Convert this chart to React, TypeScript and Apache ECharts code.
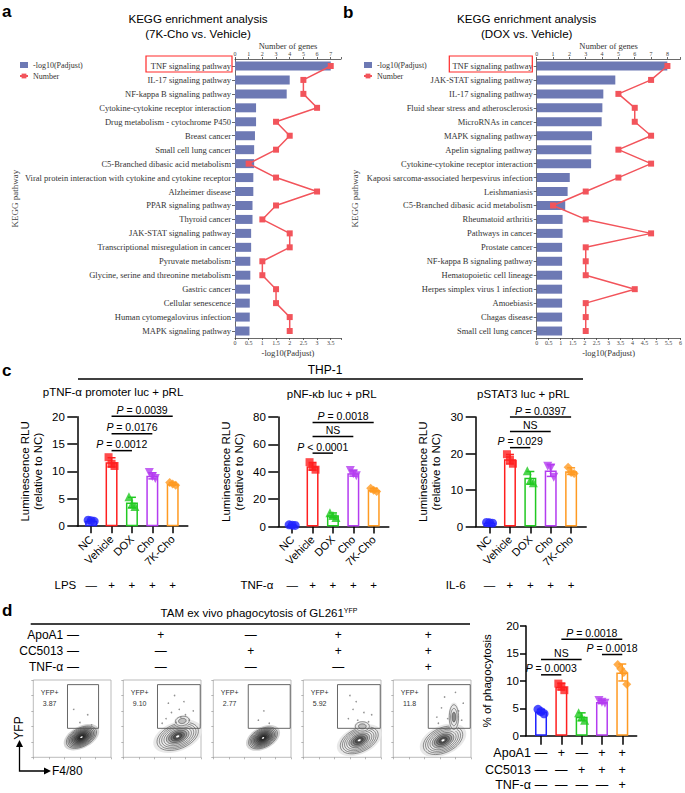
import React, { useEffect, useRef } from "react";
import * as echarts from "echarts";

const SERIF = '"Liberation Serif", "Times New Roman", serif';
const SANS = '"Liberation Sans", Arial, Helvetica, sans-serif';
const BAR = "#6d79b4";
const RED = "#f2545b";

// ===== Panel a: 7K-Cho vs. Vehicle =====
const aPathways = [
  "TNF signaling pathway",
  "IL-17 signaling pathway",
  "NF-kappa B signaling pathway",
  "Cytokine-cytokine receptor interaction",
  "Drug metabolism - cytochrome P450",
  "Breast cancer",
  "Small cell lung cancer",
  "C5-Branched dibasic acid metabolism",
  "Viral protein interaction with cytokine and cytokine receptor",
  "Alzheimer disease",
  "PPAR signaling pathway",
  "Thyroid cancer",
  "JAK-STAT signaling pathway",
  "Transcriptional misregulation in cancer",
  "Pyruvate metabolism",
  "Glycine, serine and threonine metabolism",
  "Gastric cancer",
  "Cellular senescence",
  "Human cytomegalovirus infection",
  "MAPK signaling pathway",
];
const aPadj = [3.5, 2.0, 1.89, 0.77, 0.77, 0.73, 0.7, 0.7, 0.67, 0.67, 0.64, 0.64, 0.59, 0.59, 0.56, 0.56, 0.55, 0.54, 0.54, 0.53];
const aGenes = [7, 5, 5, 6, 3, 4, 3, 1, 3, 6, 3, 2, 4, 4, 2, 2, 3, 3, 4, 4];

// ===== Panel b: DOX vs. Vehicle =====
const bPathways = [
  "TNF signaling pathway",
  "JAK-STAT signaling pathway",
  "IL-17 signaling pathway",
  "Fluid shear stress and atherosclerosis",
  "MicroRNAs in cancer",
  "MAPK signaling pathway",
  "Apelin signaling pathway",
  "Cytokine-cytokine receptor interaction",
  "Kaposi sarcoma-associated herpesvirus infection",
  "Leishmaniasis",
  "C5-Branched dibasic acid metabolism",
  "Rheumatoid arthritis",
  "Pathways in cancer",
  "Prostate cancer",
  "NF-kappa B signaling pathway",
  "Hematopoietic cell lineage",
  "Herpes simplex virus 1 infection",
  "Amoebiasis",
  "Chagas disease",
  "Small cell lung cancer",
];
const bPadj = [5.45, 3.28, 2.78, 2.74, 2.71, 2.31, 2.28, 2.27, 1.38, 1.29, 1.19, 1.08, 1.08, 1.06, 1.06, 1.06, 1.06, 1.06, 1.06, 1.06];
const bGenes = [8, 7, 5, 6, 6, 7, 5, 7, 5, 3, 1, 3, 7, 3, 3, 3, 6, 3, 3, 3];

// ===== Panel c: THP-1 luciferase =====
const cGroups = ["NC", "Vehicle", "DOX", "Cho", "7K-Cho"];
const cTnfVals = [[1.1, 1.0, 0.9], [12.6, 11.4, 11.0], [5.4, 4.0, 3.6], [9.8, 9.1, 8.7], [8.0, 7.7, 7.5]];
const cNfkbVals = [[1.2, 1.0, 0.8], [47, 43.5, 41.5], [10, 8, 6.5], [41, 38.5, 37], [28, 26.5, 25.5]];
const cStat3Vals = [[1.1, 1.0, 0.9], [19.8, 18.3, 17.2], [15.3, 12.7, 12.0], [16.5, 16.0, 13.5], [16.2, 14.8, 14.5]];
const cTnfSig = [[1, 2, 13.8], [1, 3, 16.9], [1, 4, 20.1]];
const cTnfSigLabels = ["P = 0.0012", "P = 0.0176", "P = 0.0039"];
const cNfkbSig = [[1, 2, 53.6], [1, 3, 65.7], [1, 4, 76.0]];
const cNfkbSigLabels = ["P < 0.0001", "NS", "P = 0.0018"];
const cStat3Sig = [[1, 2, 21.6], [1, 3, 26.0], [1, 4, 30.0]];
const cStat3SigLabels = ["P = 0.029", "NS", "P = 0.0397"];
const cLps = ["—", "+", "+", "+", "+"];
const cTnfa = ["—", "+", "+", "+", "+"];
const cIl6 = ["—", "+", "+", "+", "+"];

// ===== Panel d: phagocytosis =====
const dVals = [[4.8, 4.4, 4.0], [9.5, 9.0, 8.3], [4.2, 3.4, 2.8], [6.4, 6.1, 5.9], [13.0, 12.2, 11.5, 9.4]];
const dSig = [[0, 1, 11.1], [0, 2, 13.9], [1, 4, 17.6], [3, 4, 14.8]];
const dSigLabels = ["P = 0.0003", "NS", "P = 0.0018", "P = 0.0018"];
const dApoA1 = ["—", "+", "—", "+", "+"];
const dCC5013 = ["—", "—", "+", "+", "+"];
const dTnfa = ["—", "—", "—", "—", "+"];
const flowValues = ["3.87", "9.10", "2.77", "5.92", "11.8"];
// populations: [cx, cy, rx, ry, rotationDeg, levels, dense, core]
const flowPops = [
  [[62, 26, 21, 12, 28, 9, 1, 1]],
  [[70, 27, 28, 16, 22, 8, 0, 1], [76, 47, 9, 6, 10, 2, 0, 0]],
  [[64, 25, 20, 12, 28, 9, 1, 1]],
  [[72, 22, 26, 15, 25, 8, 0, 1], [76, 40, 9, 6, 0, 2, 0, 0]],
  [[64, 22, 27, 16, 25, 8, 0, 1], [78, 52, 6, 16, 0, 3, 0, 0]],
];
// sparse events seen inside the YFP+ gates
const flowEvents = [
  [[60, 45], [70, 55], [52, 62], [75, 42]],
  [[55, 50], [62, 58], [68, 45], [72, 62], [80, 55], [85, 48], [58, 70], [66, 80], [78, 72], [90, 60], [50, 44], [74, 52]],
  [[58, 48], [72, 44], [65, 60]],
  [[58, 50], [64, 62], [70, 48], [78, 58], [84, 46], [68, 72], [60, 80], [88, 55]],
  [[56, 52], [62, 64], [70, 50], [84, 60], [88, 48], [66, 78], [90, 70], [58, 44], [80, 84]],
];
const flowGates = [[44, 37.5, 84, 94], [44, 37.5, 99, 94], [45, 37.5, 99, 94], [44, 37.5, 99, 94], [45, 37.5, 99, 94]];

const GROUP_COLORS = ["#1f22ff", "#ff1f1f", "#22c922", "#b43cf0", "#ff9a22"];
const SYMBOLS = ["circle", "rect", "triangle", "triangle", "diamond"];
const SYMBOL_ROT = [0, 0, 0, 180, 0];
const SYMBOL_SIZE = [9, 8, 9, 9, 9];

const halfFmt = (v: number) => {
  const r = Math.round(v * 2);
  return Math.abs(v * 2 - r) < 1e-6 ? String(r / 2) : "";
};
const intFmt = (v: number) => {
  const r = Math.round(v);
  return Math.abs(v - r) < 1e-6 ? String(r) : "";
};
const mean = (a: number[]) => a.reduce((s, v) => s + v, 0) / a.length;
const sd = (a: number[]) => {
  const m = mean(a);
  return Math.sqrt(a.reduce((s, v) => s + (v - m) * (v - m), 0) / (a.length - 1));
};

function buildOption() {
  const grid: any[] = [];
  const xAxis: any[] = [];
  const yAxis: any[] = [];
  const series: any[] = [];

  const axisGray = { color: "#444", width: 0.8 };

  function kegg(left: number, width: number, pathways: string[], padj: number[], genes: number[], padjMax: number, genesMax: number, yNameGap: number) {
    const gi = grid.length;
    grid.push({ left, top: 59, width, height: 279 });
    const xb = xAxis.length;
    xAxis.push({
      type: "value", gridIndex: gi, position: "bottom", min: 0, max: padjMax, interval: 0.5,
      axisLine: { show: true, onZero: false, lineStyle: axisGray },
      axisTick: { show: true, length: 2, lineStyle: axisGray },
      axisLabel: { fontSize: 6, fontFamily: SERIF, color: "#444", margin: 2, formatter: halfFmt },
      splitLine: { show: false },
      name: "-log10(Padjust)", nameLocation: "middle", nameGap: 10.5,
      nameTextStyle: { fontSize: 8.5, fontFamily: SERIF, color: "#333" },
    });
    xAxis.push({
      type: "value", gridIndex: gi, position: "top", min: 0, max: genesMax, interval: 1,
      axisLine: { show: true, onZero: false, lineStyle: axisGray },
      axisTick: { show: true, length: 2, lineStyle: axisGray },
      axisLabel: { fontSize: 6, fontFamily: SERIF, color: "#444", margin: 2, formatter: intFmt },
      splitLine: { show: false },
      name: "Number of genes", nameLocation: "middle", nameGap: 8,
      nameTextStyle: { fontSize: 8.5, fontFamily: SERIF, color: "#333" },
    });
    const yi = yAxis.length;
    yAxis.push({
      type: "category", gridIndex: gi, data: pathways, inverse: true,
      axisLine: { show: true, onZero: false, lineStyle: axisGray },
      axisTick: { show: true, length: 3, alignWithLabel: true, lineStyle: axisGray },
      axisLabel: { fontSize: 8.5, fontFamily: SERIF, color: "#333", margin: 4, interval: 0 },
      name: "KEGG pathway", nameLocation: "middle", nameGap: yNameGap, nameRotate: 90,
      nameTextStyle: { fontSize: 9, fontFamily: SERIF, color: "#444" },
    });
    series.push({
      type: "bar", name: "-log10(Padjust)", xAxisIndex: xb, yAxisIndex: yi, data: padj,
      barWidth: 9, itemStyle: { color: BAR }, z: 2,
    });
    series.push({
      type: "line", name: "Number", xAxisIndex: xb + 1, yAxisIndex: yi, data: genes,
      symbol: "rect", symbolSize: 6, itemStyle: { color: RED }, lineStyle: { color: RED, width: 1.5 }, z: 3,
    });
  }

  kegg(235, 106, aPathways, aPadj, aGenes, 3.875, 7.75, 216);
  kegg(536.7, 146.6, bPathways, bPadj, bGenes, 6, 8.8, 177);

  const sigRender = (labels: string[], fontSize: number) => (params: any, api: any) => {
    const p1 = api.coord([api.value(0), api.value(2)]);
    const p2 = api.coord([api.value(1), api.value(2)]);
    const lab = labels[params.dataIndex];
    const text = lab.startsWith("P") ? "{i|P}" + lab.slice(1) : lab;
    return {
      type: "group",
      children: [
        { type: "line", shape: { x1: p1[0], y1: p1[1], x2: p2[0], y2: p2[1] }, style: { stroke: "#000", lineWidth: 1.5 } },
        {
          type: "text", x: (p1[0] + p2[0]) / 2, y: p1[1] - 1,
          style: {
            text, fill: "#000", fontSize, fontFamily: SANS, align: "center", verticalAlign: "bottom",
            textAlign: "center", textVerticalAlign: "bottom",
            rich: { i: { fontStyle: "italic", fontSize, fontFamily: SANS, fill: "#000" } },
          },
        },
      ],
    };
  };

  function dotPanel(o: any) {
    const gi = grid.length;
    grid.push({ left: o.left, top: o.top, width: o.width, height: o.height });
    const xi = xAxis.length;
    const ticks = o.vals.map((_: any, i: number) => i);
    xAxis.push({
      type: "value", gridIndex: gi, position: "bottom", min: o.xmin, max: o.xmax,
      axisLine: { show: true, onZero: false, lineStyle: { color: "#000", width: 1.5 } },
      axisTick: { show: true, customValues: ticks, length: o.xTickLen, lineStyle: { color: "#000", width: 1.5 } },
      axisLabel: o.xLabels
        ? { show: true, customValues: ticks, formatter: (v: number) => o.xLabels[Math.round(v)] || "", rotate: 45, fontSize: 11, fontFamily: SANS, color: "#000", margin: 11 }
        : { show: false },
      splitLine: { show: false },
    });
    const yi = yAxis.length;
    yAxis.push({
      type: "value", gridIndex: gi, min: 0, max: o.ymax, interval: o.yint,
      axisLine: { show: true, onZero: false, lineStyle: { color: "#000", width: 1.5 } },
      axisTick: { show: true, length: o.yTickLen, lineStyle: { color: "#000", width: 1.5 } },
      axisLabel: { fontSize: 11.5, fontFamily: SANS, color: "#000", margin: o.yLabelMargin },
      splitLine: { show: false },
      name: o.yName, nameLocation: "middle", nameRotate: 90, nameGap: o.yNameGap,
      nameTextStyle: { fontSize: 11.5, fontFamily: SANS, color: "#000", lineHeight: 13 },
    });
    const vals: number[][] = o.vals;
    series.push({
      type: "bar", xAxisIndex: xi, yAxisIndex: yi, barWidth: 12, z: 2, silent: true,
      data: vals.map((g, i) => ({ value: [i, mean(g)], itemStyle: { color: "#fff", borderColor: GROUP_COLORS[i], borderWidth: 1.5 } })),
    });
    series.push({
      type: "custom", coordinateSystem: "cartesian2d", xAxisIndex: xi, yAxisIndex: yi, z: 3, silent: true,
      encode: { x: 0, y: 1 },
      data: vals.map((g, i) => [i, mean(g), sd(g)]),
      renderItem: (params: any, api: any) => {
        const x = api.value(0), m = api.value(1), s = api.value(2);
        const t = api.coord([x, m + s]);
        const b = api.coord([x, m - s]);
        const c = GROUP_COLORS[params.dataIndex];
        const st = { stroke: c, lineWidth: 1.5 };
        return {
          type: "group",
          children: [
            { type: "line", shape: { x1: t[0], y1: t[1], x2: b[0], y2: b[1] }, style: st },
            { type: "line", shape: { x1: t[0] - 4, y1: t[1], x2: t[0] + 4, y2: t[1] }, style: st },
            { type: "line", shape: { x1: b[0] - 4, y1: b[1], x2: b[0] + 4, y2: b[1] }, style: st },
          ],
        };
      },
    });
    const pts: any[] = [];
    vals.forEach((g, i) => {
      g.forEach((v, j) => {
        const off = (j - (g.length - 1) / 2) * 3;
        pts.push({
          value: [i, v], symbol: SYMBOLS[i], symbolRotate: SYMBOL_ROT[i], symbolSize: SYMBOL_SIZE[i],
          symbolOffset: [off, 0], itemStyle: { color: GROUP_COLORS[i] },
        });
      });
    });
    series.push({ type: "scatter", xAxisIndex: xi, yAxisIndex: yi, z: 4, silent: true, data: pts });
    series.push({
      type: "custom", coordinateSystem: "cartesian2d", xAxisIndex: xi, yAxisIndex: yi, z: 5, silent: true,
      encode: { x: [0, 1], y: 2 },
      data: o.sig,
      renderItem: sigRender(o.sigLabels, 10.5),
    });
    return { gi, xi };
  }

  function rowAxis(gi: number, xmin: number, xmax: number, offset: number, signs: string[], name: string, nameGap: number, fontSize: number) {
    xAxis.push({
      type: "value", gridIndex: gi, position: "bottom", min: xmin, max: xmax, offset,
      axisLine: { show: false, onZero: false },
      axisTick: { show: false },
      splitLine: { show: false },
      axisLabel: {
        show: true, customValues: signs.map((_, i) => i), formatter: (v: number) => signs[Math.round(v)] || "",
        fontSize, fontFamily: SANS, color: "#000", margin: 0, verticalAlign: "middle",
      },
      name, nameLocation: "start", nameGap,
      nameTextStyle: { fontSize, fontFamily: SANS, color: "#000", align: "right", verticalAlign: "middle" },
    });
  }

  const yName = "Luminescence RLU\n(relative to NC)";
  const c1 = dotPanel({ left: 77.3, top: 416.7, width: 110.5, height: 109.5, xmin: -0.68, xmax: 4.74, ymax: 20, yint: 5, vals: cTnfVals, sig: cTnfSig, sigLabels: cTnfSigLabels, xLabels: cGroups, yName, yNameGap: 33, yTickLen: 10, yLabelMargin: 12.5, xTickLen: 7 });
  rowAxis(c1.gi, -0.68, 4.74, 59, cLps, "LPS", 1, 11.5);
  const c2 = dotPanel({ left: 278.3, top: 417, width: 110.5, height: 109.5, xmin: -0.68, xmax: 4.74, ymax: 80, yint: 20, vals: cNfkbVals, sig: cNfkbSig, sigLabels: cNfkbSigLabels, xLabels: cGroups, yName, yNameGap: 33, yTickLen: 10, yLabelMargin: 12.5, xTickLen: 7 });
  rowAxis(c2.gi, -0.68, 4.74, 58.5, cTnfa, "TNF-α", 5, 11.5);
  const c3 = dotPanel({ left: 475.7, top: 417, width: 110.5, height: 109.5, xmin: -0.68, xmax: 4.74, ymax: 30, yint: 10, vals: cStat3Vals, sig: cStat3Sig, sigLabels: cStat3SigLabels, xLabels: cGroups, yName, yNameGap: 33, yTickLen: 10, yLabelMargin: 12.5, xTickLen: 7 });
  rowAxis(c3.gi, -0.68, 4.74, 58.5, cIl6, "IL-6", 10, 11.5);

  // flow cytometry plots
  const ellipsePts = (api: any, cx: number, cy: number, rx: number, ry: number, rot: number, s: number) => {
    const th = (rot * Math.PI) / 180;
    const pts: number[][] = [];
    for (let k = 0; k < 48; k++) {
      const t = (k / 48) * Math.PI * 2;
      const ex = rx * s * Math.cos(t);
      const ey = ry * s * Math.sin(t);
      pts.push(api.coord([cx + ex * Math.cos(th) - ey * Math.sin(th), cy + ex * Math.sin(th) + ey * Math.cos(th)]));
    }
    return pts;
  };
  flowPops.forEach((pops, p) => {
    const gi = grid.length;
    grid.push({ left: 33.3 + 90 * p, top: 680, width: 77.7, height: 77.3, show: true, borderColor: "#aaa", borderWidth: 0.8 });
    const xi = xAxis.length;
    xAxis.push({
      type: "value", gridIndex: gi, min: 0, max: 100, interval: 20,
      axisLine: { show: false, onZero: false }, axisTick: { show: true, length: 2, lineStyle: { color: "#888", width: 0.6 } },
      axisLabel: { show: false }, splitLine: { show: false },
    });
    const yi = yAxis.length;
    yAxis.push({
      type: "value", gridIndex: gi, min: 0, max: 100, interval: 20,
      axisLine: { show: false, onZero: false }, axisTick: { show: true, length: 2, lineStyle: { color: "#888", width: 0.6 } },
      axisLabel: { show: false }, splitLine: { show: false },
    });
    series.push({
      type: "custom", coordinateSystem: "cartesian2d", xAxisIndex: xi, yAxisIndex: yi, silent: true, z: 2,
      encode: { x: 0, y: 1 },
      data: pops,
      renderItem: (params: any, api: any) => {
        const cx = api.value(0), cy = api.value(1), rx = api.value(2), ry = api.value(3), rot = api.value(4);
        const n = api.value(5), dense = api.value(6), core = api.value(7);
        const children: any[] = [];
        children.push({ type: "polygon", shape: { points: ellipsePts(api, cx, cy, rx, ry, rot, 1.18) }, style: { fill: dense ? "#d4d4d4" : "#e8e8e8", stroke: "none" } });
        for (let k = 0; k < n; k++) {
          const s = 1 - (k / n) * 0.9;
          let fill = "none";
          if (dense) {
            const g = Math.round(210 - (170 * k) / Math.max(1, n - 1));
            fill = `rgb(${g},${g},${g})`;
          } else if (k >= n / 2) {
            const g = Math.round(190 - (150 * (k - n / 2)) / Math.max(1, n / 2));
            fill = `rgb(${g},${g},${g})`;
          }
          children.push({ type: "polygon", shape: { points: ellipsePts(api, cx, cy, rx, ry, rot, s) }, style: { fill, stroke: "#2a2a2a", lineWidth: 0.5 } });
        }
        if (core) {
          children.push({ type: "polygon", shape: { points: ellipsePts(api, cx, cy, rx, ry, rot, 0.08) }, style: { fill: "#fff", stroke: "none" } });
        }
        return { type: "group", children };
      },
    });
    series.push({
      type: "scatter", xAxisIndex: xi, yAxisIndex: yi, silent: true, z: 2,
      symbol: "circle", symbolSize: 1.6, itemStyle: { color: "#777" },
      data: flowEvents[p],
    });
    series.push({
      type: "custom", coordinateSystem: "cartesian2d", xAxisIndex: xi, yAxisIndex: yi, silent: true, z: 3,
      encode: { x: [0, 2], y: [1, 3] },
      data: [flowGates[p]],
      renderItem: (params: any, api: any) => {
        const tl = api.coord([api.value(0), api.value(3)]);
        const br = api.coord([api.value(2), api.value(1)]);
        const l1 = api.coord([21, 84]);
        const l2 = api.coord([21, 70]);
        const ts = { fill: "#333", fontSize: 7, fontFamily: SANS, align: "center", verticalAlign: "middle", textAlign: "center", textVerticalAlign: "middle" };
        return {
          type: "group",
          children: [
            { type: "rect", shape: { x: tl[0], y: tl[1], width: br[0] - tl[0], height: br[1] - tl[1] }, style: { fill: "none", stroke: "#555", lineWidth: 0.9 } },
            { type: "text", x: l1[0], y: l1[1], style: { ...ts, text: "YFP+" } },
            { type: "text", x: l2[0], y: l2[1], style: { ...ts, text: flowValues[p] } },
          ],
        };
      },
    });
  });

  const dP = dotPanel({ left: 526, top: 626, width: 110.7, height: 109.7, xmin: -0.74, xmax: 4.71, ymax: 20, yint: 5, vals: dVals, sig: dSig, sigLabels: dSigLabels, xLabels: null, yName: "% of phagocytosis", yNameGap: 33, yTickLen: 6, yLabelMargin: 7, xTickLen: 9 });
  rowAxis(dP.gi, -0.74, 4.71, 17.6, dApoA1, "ApoA1", -7.3, 12.5);
  rowAxis(dP.gi, -0.74, 4.71, 34.3, dCC5013, "CC5013", -7.3, 12.5);
  rowAxis(dP.gi, -0.74, 4.71, 49.5, dTnfa, "TNF-α", -7.3, 12.5);

  // ---- free texts / decorations ----
  const T = (x: number, y: number, text: string, size: number, ex: any = {}) => ({
    type: "text", x, y, rotation: ex.rotation || 0, z: 100, silent: true,
    style: {
      text, fill: ex.color || "#000", fontSize: size, fontFamily: ex.family || SANS, fontWeight: ex.weight || "normal",
      align: ex.align || "center", verticalAlign: ex.va || "middle",
      textAlign: ex.align || "center", textVerticalAlign: ex.va || "middle",
      rich: ex.rich,
    },
  });
  const L = (x1: number, y1: number, x2: number, y2: number, w = 1.3) => ({
    type: "line", z: 100, silent: true, shape: { x1, y1, x2, y2 }, style: { stroke: "#000", lineWidth: w },
  });
  const elements: any[] = [
    T(2, 11, "a", 17, { weight: "bold", align: "left" }),
    T(343, 12, "b", 17, { weight: "bold", align: "left" }),
    T(2, 370, "c", 17, { weight: "bold", align: "left" }),
    T(2, 610, "d", 17, { weight: "bold", align: "left" }),
    T(198, 18, "KEGG enrichment analysis", 11.6),
    T(198, 33, "(7K-Cho vs. Vehicle)", 11.6),
    T(526.7, 18, "KEGG enrichment analysis", 11.6),
    T(526.7, 33, "(DOX vs. Vehicle)", 11.6),
    { type: "rect", z: 100, silent: true, shape: { x: 146, y: 56, width: 86, height: 16 }, style: { fill: "none", stroke: "#ff2a2a", lineWidth: 1.2 } },
    { type: "rect", z: 100, silent: true, shape: { x: 449.3, y: 56, width: 83, height: 16 }, style: { fill: "none", stroke: "#ff2a2a", lineWidth: 1.2 } },
    T(325, 370, "THP-1", 12),
    L(78, 379, 583, 379),
    T(113, 392, "pTNF-α promoter luc + pRL", 11.5),
    T(331.7, 394, "pNF-κb luc + pRL", 11.5),
    T(523.3, 394, "pSTAT3 luc + pRL", 11.5),
    T(259, 613, "TAM ex vivo phagocytosis of GL261{s|YFP}", 11.5, { rich: { s: { fontSize: 7, fontFamily: SANS, fill: "#000", verticalAlign: "top" } } }),
    L(30.7, 624, 470, 624),
    T(19, 728, "YFP", 12, { rotation: Math.PI / 2 }),
    T(52, 771, "F4/80", 12, { align: "left" }),
    { type: "polyline", z: 100, silent: true, shape: { points: [[19.5, 746], [19.5, 771], [45, 771]] }, style: { stroke: "#000", lineWidth: 1.3, fill: "none" } },
    { type: "polygon", z: 100, silent: true, shape: { points: [[16, 747], [23, 747], [19.5, 740]] }, style: { fill: "#000" } },
    { type: "polygon", z: 100, silent: true, shape: { points: [[44, 767.5], [44, 774.5], [51, 771]] }, style: { fill: "#000" } },
  ];
  const dRows = [
    { name: "ApoA1", y: 635, signs: dApoA1 },
    { name: "CC5013", y: 651, signs: dCC5013 },
    { name: "TNF-α", y: 667, signs: dTnfa },
  ];
  const dCols = [73, 160.7, 250.7, 338.3, 428.3];
  dRows.forEach((r) => {
    elements.push(T(63.3, r.y, r.name, 12, { align: "right" }));
    r.signs.forEach((s, i) => elements.push(T(dCols[i], r.y, s, 12)));
  });

  return {
    animation: false,
    backgroundColor: "#fff",
    textStyle: { fontFamily: SANS },
    grid,
    xAxis,
    yAxis,
    series,
    legend: [
      {
        left: 19, top: 61, orient: "vertical", itemWidth: 8, itemHeight: 6, itemGap: 3, padding: 0, selectedMode: false,
        textStyle: { fontSize: 8, fontFamily: SERIF, color: "#333" },
        data: [{ name: "-log10(Padjust)", icon: "rect" }, { name: "Number" }],
      },
      {
        left: 363, top: 61, orient: "vertical", itemWidth: 8, itemHeight: 6, itemGap: 3, padding: 0, selectedMode: false,
        textStyle: { fontSize: 8, fontFamily: SERIF, color: "#333" },
        data: [{ name: "-log10(Padjust)", icon: "rect" }, { name: "Number" }],
      },
    ],
    graphic: { elements },
  };
}

export default function App() {
  const ref = useRef<HTMLDivElement>(null);
  useEffect(() => {
    if (!ref.current) return;
    const chart = echarts.init(ref.current, null, { renderer: "svg", width: 685, height: 793 });
    chart.setOption(buildOption() as any);
    return () => chart.dispose();
  }, []);
  return <div ref={ref} style={{ position: "absolute", left: 0, top: 0, width: 685, height: 793, background: "#fff" }} />;
}
